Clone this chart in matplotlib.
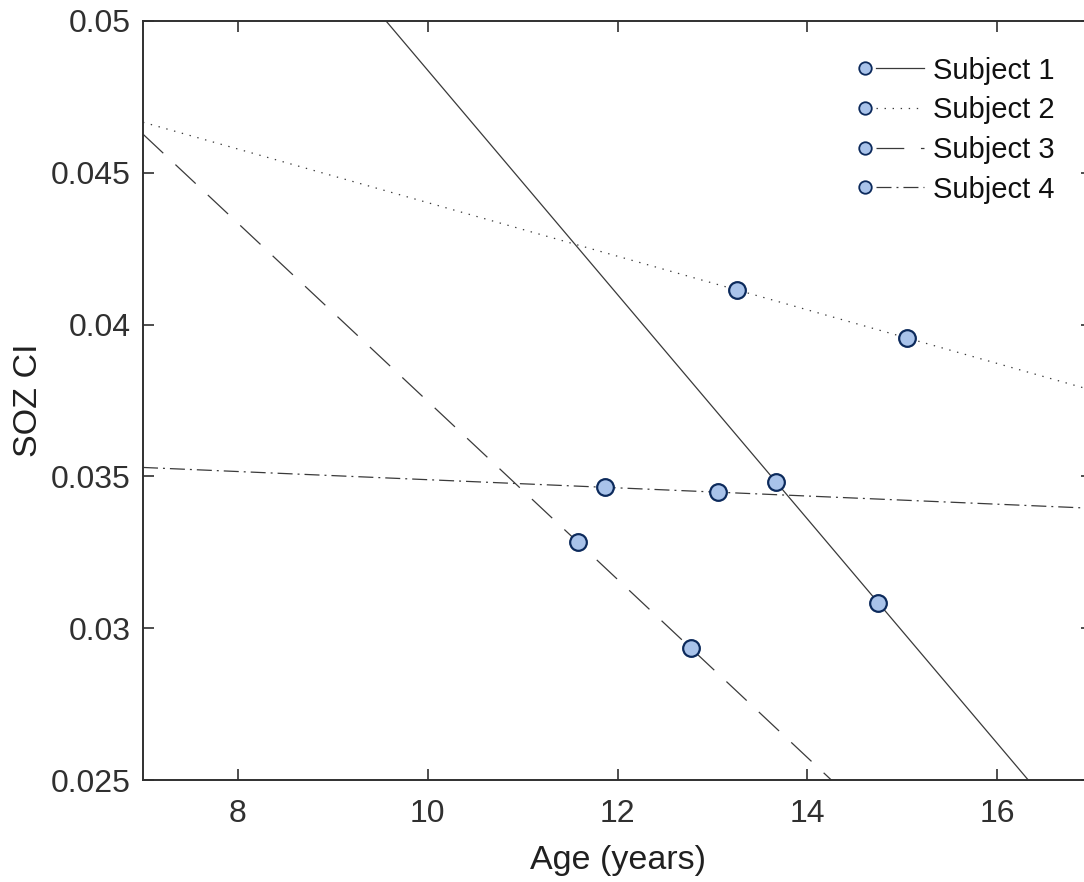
import numpy as np
import matplotlib
matplotlib.use("Agg")
import matplotlib.pyplot as plt
from matplotlib.lines import Line2D
from matplotlib.legend_handler import HandlerBase

# values (two visits per subject)
subjects = ["Subject 1", "Subject 2", "Subject 3", "Subject 4"]
age_s1 = [13.67, 14.75]
ci_s1 = [0.03482, 0.03083]
age_s2 = [13.26, 15.05]
ci_s2 = [0.04114, 0.03956]
age_s3 = [11.58, 12.77]
ci_s3 = [0.03284, 0.02935]
age_s4 = [11.87, 13.06]
ci_s4 = [0.03464, 0.03448]

x_ticks = [8, 10, 12, 14, 16]
y_ticks = [0.025, 0.03, 0.035, 0.04, 0.045, 0.05]
y_ticklabels = ["0.025", "0.03", "0.035", "0.04", "0.045", "0.05"]

LINE_COLOR = "#3a3a3a"
FACE = "#a9c3ea"
EDGE = "#0c2a5c"
AX_COLOR = "#303030"

styles = [
    "-",
    (0, (1.0, 4.8)),
    (0, (20, 12)),
    (0, (10.8, 3.6, 1.4, 3.6)),
]

plt.rcParams["font.family"] = ["Liberation Sans", "DejaVu Sans"]
plt.rcParams["lines.scale_dashes"] = False


class MarkerThenLine(HandlerBase):
    """Legend entry: small marker on the left, then the line style."""

    def create_artists(self, legend, orig_handle, xdescent, ydescent,
                       width, height, fontsize, trans):
        y = height / 2 - ydescent
        x0 = -xdescent
        mk = Line2D([x0 + 4.5], [y], marker="o", markersize=9,
                    markerfacecolor=FACE, markeredgecolor=EDGE,
                    markeredgewidth=1.3, linestyle="none", transform=trans)
        ln = Line2D([x0 + 12.5, x0 + width - 3], [y, y], color=LINE_COLOR,
                    linewidth=0.9, transform=trans)
        ln.set_linestyle(orig_handle._style)
        return [ln, mk]


fig = plt.figure(figsize=(10.84, 8.82), dpi=100)
ax = fig.add_axes([143 / 1084, 1 - 780 / 882, (1092 - 143) / 1084, (780 - 21) / 882])

xlim = (7, 17)
ylim = (0.025, 0.05)
xs = np.array(xlim, dtype=float)

handles = []
for ages, ci, ls, name in zip([age_s1, age_s2, age_s3, age_s4],
                              [ci_s1, ci_s2, ci_s3, ci_s4], styles, subjects):
    slope, icpt = np.polyfit(ages, ci, 1)
    ax.plot(xs, slope * xs + icpt, color=LINE_COLOR, linewidth=0.9, linestyle=ls)
    ax.plot(ages, ci, "o", markersize=12, markerfacecolor=FACE,
            markeredgecolor=EDGE, markeredgewidth=1.6, zorder=3)
    h = Line2D([], [], color=LINE_COLOR, linestyle=ls)
    h._style = ls
    handles.append(h)

ax.set_xlim(*xlim)
ax.set_ylim(*ylim)
ax.set_xticks(x_ticks)
ax.set_yticks(y_ticks)
ax.set_yticklabels(y_ticklabels)
ax.tick_params(direction="in", length=8, width=1.2, colors=AX_COLOR,
               labelsize=23, top=True, right=True)
ax.tick_params(axis="x", pad=14)
ax.tick_params(axis="y", pad=9)
for sp in ax.spines.values():
    sp.set_linewidth(1.4)
    sp.set_color(AX_COLOR)

ax.set_xlabel("Age (years)", fontsize=24.5, color="#202020", labelpad=11)
ax.set_ylabel("SOZ CI", fontsize=24.5, color="#202020", labelpad=5)

leg = fig.legend(handles, subjects, loc="upper left",
                 bbox_to_anchor=(844 / 1084, 1 - 42 / 882), frameon=False,
                 fontsize=21, handlelength=2.4, handletextpad=0.15,
                 labelspacing=0.4, borderpad=0,
                 handler_map={Line2D: MarkerThenLine()})
for t in leg.get_texts():
    t.set_color("#101010")

fig.savefig("out.png", dpi=100)
